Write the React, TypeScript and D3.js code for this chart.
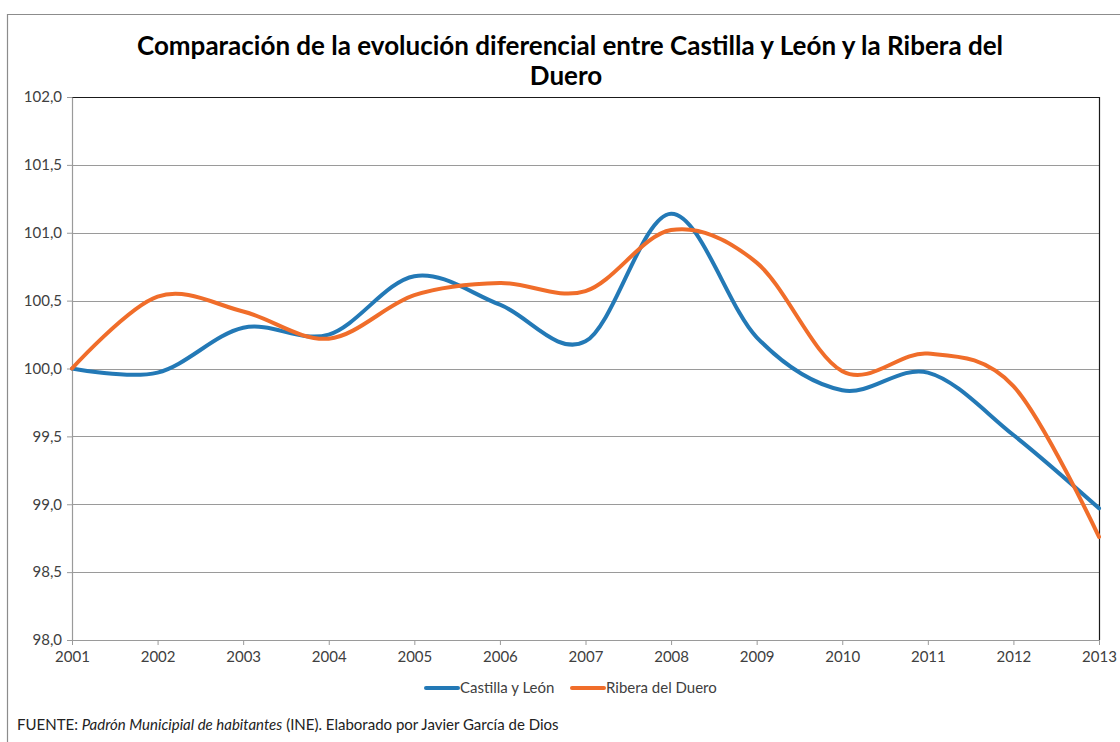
import { useEffect, useRef } from "react";
import * as d3 from "d3";

const W = 1120;
const H = 742;

const YEARS = [2001, 2002, 2003, 2004, 2005, 2006, 2007, 2008, 2009, 2010, 2011, 2012, 2013];
const CASTILLA = [100.0, 99.97, 100.3, 100.25, 100.68, 100.47, 100.2, 101.14, 100.23, 99.84, 99.97, 99.51, 98.97];
const RIBERA = [100.0, 100.53, 100.42, 100.22, 100.54, 100.63, 100.57, 101.02, 100.78, 99.98, 100.11, 99.87, 98.76];
const Y_TICKS = [98.0, 98.5, 99.0, 99.5, 100.0, 100.5, 101.0, 101.5, 102.0];

const SERIES = [
  { name: "Castilla y León", values: CASTILLA, color: "#2379b6" },
  { name: "Ribera del Duero", values: RIBERA, color: "#f06d2a" },
];

const PLOT = { left: 72, right: 1099, top: 97, bottom: 640 };
const FONT = "Lato, 'Open Sans', sans-serif";
const FS = 15;

export default function App() {
  const svgRef = useRef<SVGSVGElement | null>(null);

  useEffect(() => {
    if (!svgRef.current) return;
    const svg = d3.select(svgRef.current);
    svg.selectAll("*").remove();

    svg.append("rect").attr("width", W).attr("height", H).attr("fill", "#fff");

    // outer chart frame
    svg.append("path")
      .attr("d", `M7.5,${H} V14.5 H${W}`)
      .attr("fill", "none")
      .attr("stroke", "#8c8c8c")
      .attr("stroke-width", 1.2);

    const x = d3.scalePoint<number>().domain(YEARS).range([PLOT.left, PLOT.right]);
    const y = d3.scaleLinear().domain([98, 102]).range([PLOT.bottom, PLOT.top]);

    // title
    const title = svg.append("text")
      .attr("text-anchor", "middle")
      .attr("font-family", FONT)
      .attr("font-weight", 700)
      .attr("font-size", 26)
      .attr("fill", "#000");
    title.append("tspan").attr("x", 570).attr("y", 55)
      .text("Comparación de la evolución diferencial entre Castilla y León y la Ribera del");
    title.append("tspan").attr("x", 566).attr("y", 85).text("Duero");

    // gridlines
    svg.append("g")
      .selectAll("line")
      .data(Y_TICKS.slice(1, -1))
      .join("line")
      .attr("x1", PLOT.left).attr("x2", PLOT.right)
      .attr("y1", d => Math.round(y(d)) + 0.5).attr("y2", d => Math.round(y(d)) + 0.5)
      .attr("stroke", "#9a9a9a").attr("stroke-width", 1);

    // plot area border (top and right dark)
    svg.append("path")
      .attr("d", `M${PLOT.left},${PLOT.top + 0.5} H${PLOT.right + 0.5} V${PLOT.bottom}`)
      .attr("fill", "none").attr("stroke", "#1a1a1a").attr("stroke-width", 1.2);

    const styleAxis = (sel: any) => {
      sel.select(".domain").attr("stroke", "#9a9a9a").attr("stroke-width", 1.2);
      sel.selectAll(".tick line").attr("stroke", "#9a9a9a");
      sel.selectAll("text")
        .attr("fill", "#404040")
        .attr("font-size", FS)
        .attr("font-family", FONT);
    };

    // y axis
    svg.append("g")
      .attr("transform", `translate(${PLOT.left},0)`)
      .call(
        d3.axisLeft(y)
          .tickValues(Y_TICKS)
          .tickSize(5)
          .tickSizeOuter(0)
          .tickPadding(5)
          .tickFormat(d => d3.format(".1f")(d as number).replace(".", ","))
      )
      .call(styleAxis);

    // x axis
    svg.append("g")
      .attr("transform", `translate(0,${PLOT.bottom})`)
      .call(d3.axisBottom(x).tickSize(5).tickSizeOuter(0).tickPadding(6).tickFormat(d => String(d)))
      .call(styleAxis);

    // series (Excel-style smoothed lines)
    const line = d3.line<number>()
      .x((_, i) => x(YEARS[i]) as number)
      .y(d => y(d))
      .curve(d3.curveCardinal.tension(0));

    SERIES.forEach(s => {
      svg.append("path")
        .datum(s.values)
        .attr("d", line)
        .attr("fill", "none")
        .attr("stroke", s.color)
        .attr("stroke-width", 4)
        .attr("stroke-linecap", "round");
    });

    // legend
    const legendPos = [426, 572];
    const lg = svg.append("g").attr("font-family", FONT).attr("font-size", FS).attr("fill", "#404040");
    SERIES.forEach((s, i) => {
      const lx = legendPos[i];
      lg.append("line")
        .attr("x1", lx).attr("x2", lx + 32)
        .attr("y1", 688).attr("y2", 688)
        .attr("stroke", s.color).attr("stroke-width", 4).attr("stroke-linecap", "round");
      lg.append("text").attr("x", lx + 34).attr("y", 693).text(s.name);
    });

    // source note
    const src = svg.append("text")
      .attr("x", 17).attr("y", 730)
      .attr("font-family", FONT).attr("font-size", FS).attr("fill", "#222");
    src.append("tspan").text("FUENTE: ");
    src.append("tspan").attr("font-style", "italic").text("Padrón Municipial  de habitantes");
    src.append("tspan").text(" (INE). Elaborado por Javier García de Dios");
  }, []);

  return (
    <svg
      ref={svgRef}
      width={W}
      height={H}
      style={{ position: "absolute", left: 0, top: 0, display: "block" }}
    />
  );
}
